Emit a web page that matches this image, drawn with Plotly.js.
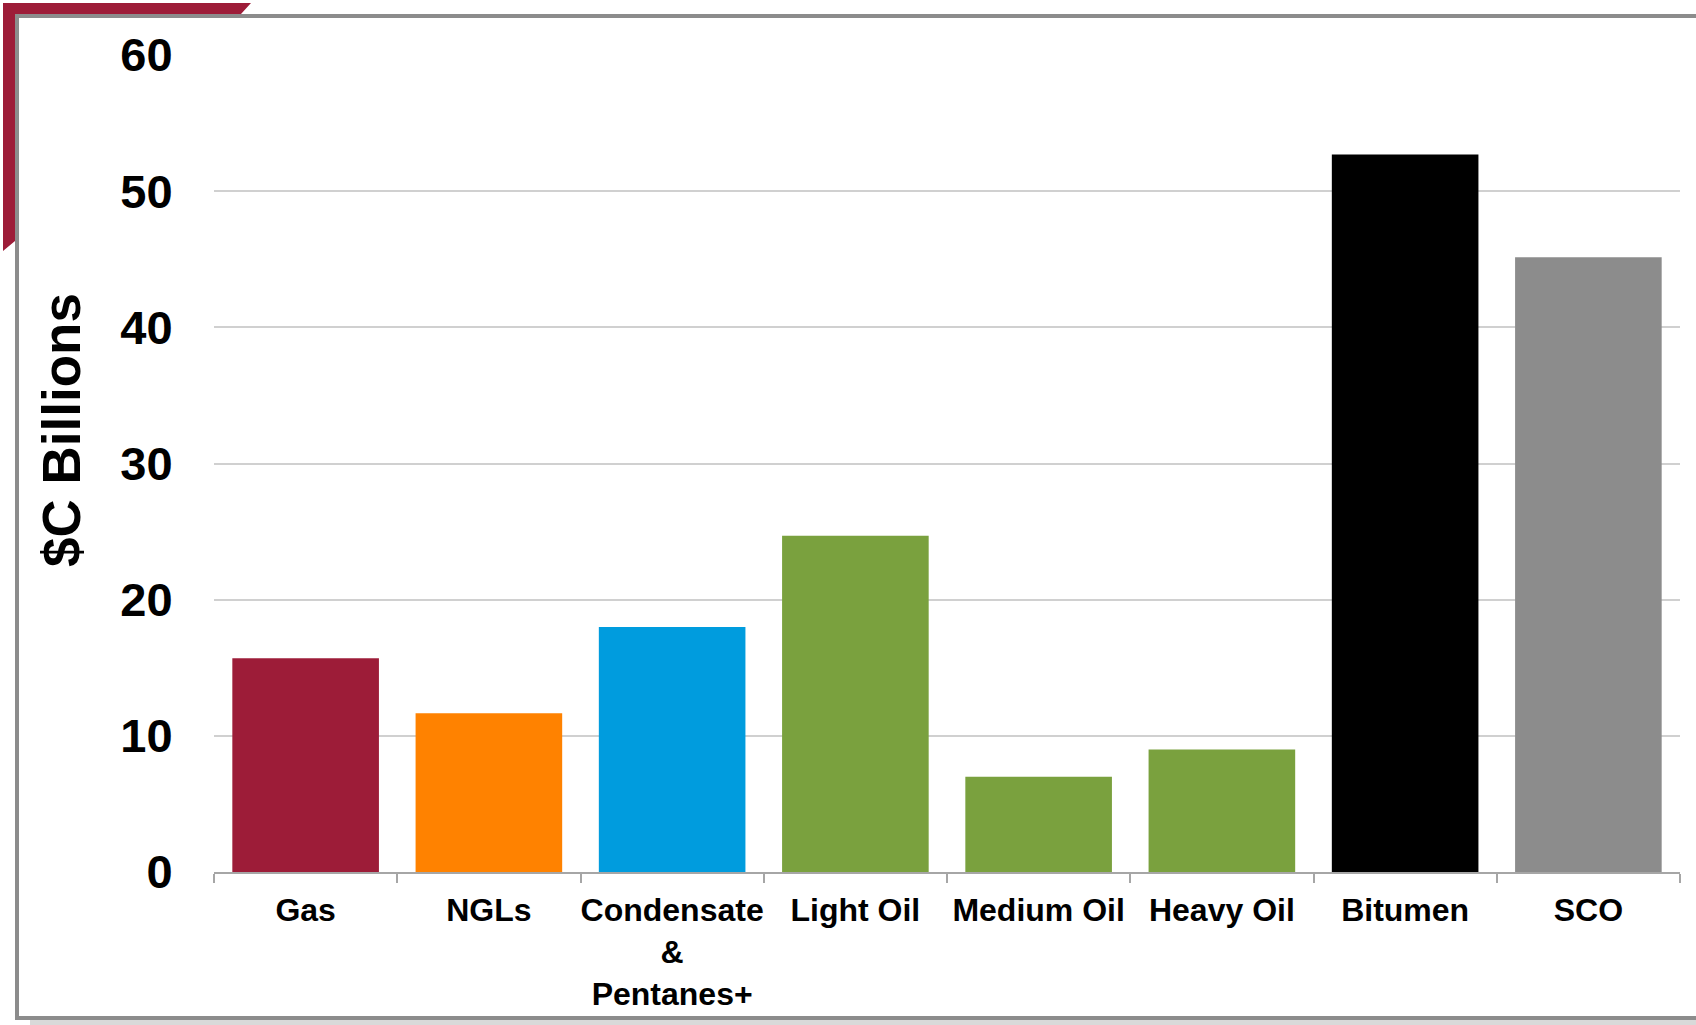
<!DOCTYPE html>
<html>
<head>
<meta charset="utf-8">
<script src="https://cdn.plot.ly/plotly-3.0.1.min.js"></script>
<style>
html,body{margin:0;padding:0;background:#fff;}
#chart{width:1696px;height:1025px;}
</style>
</head>
<body>
<div id="chart"></div>
<script>
// ---- data ----
const categories = ["Gas", "NGLs", "Condensate<br>&<br>Pentanes+", "Light Oil", "Medium Oil", "Heavy Oil", "Bitumen", "SCO"];
const values = [15.7, 11.65, 18.0, 24.7, 7.0, 9.0, 52.7, 45.15];
const barColors = ["#9D1C38", "#FF8200", "#009CDE", "#7AA13E", "#7AA13E", "#7AA13E", "#000000", "#8C8C8C"];
const yTickVals = [0, 10, 20, 30, 40, 50, 60];
const yTitle = "$C Billions";

// ---- layout geometry (pixels) ----
const W = 1696, H = 1025;
const L = 214, R = 1680, T = 55, B = 872;
const px = x => (x - L) / (R - L);
const py = y => (B - y) / (B - T);

const font = {family: "Liberation Sans, Arial, sans-serif", color: "#000", weight: "bold"};

const trace = {
  type: "bar",
  x: categories,
  y: values,
  marker: {color: barColors, line: {width: 0}},
  hoverinfo: "skip"
};

const redPath = "M " + px(3) + " " + py(3) + " L " + px(251) + " " + py(3) + " L " + px(241) + " " + py(14) +
  " L " + px(15) + " " + py(14) + " L " + px(15) + " " + py(241) + " L " + px(3) + " " + py(251) + " Z";

const layout = {
  width: W, height: H,
  margin: {l: L, r: W - R, t: T, b: H - B, pad: 0},
  paper_bgcolor: "#fff",
  plot_bgcolor: "#fff",
  showlegend: false,
  bargap: 0.2,
  xaxis: {
    type: "category",
    tickson: "boundaries",
    ticks: "outside",
    ticklen: 9,
    tickwidth: 2,
    tickcolor: "#A6A6A6",
    tickangle: 0,
    showline: true,
    linecolor: "#A6A6A6",
    linewidth: 2,
    showgrid: false,
    tickfont: Object.assign({}, font, {size: 32}),
    ticklabelstandoff: 9,
    fixedrange: true
  },
  yaxis: {
    range: [0, 60],
    tickvals: yTickVals,
    ticks: "outside",
    ticklen: 31,
    tickcolor: "rgba(0,0,0,0)",
    showline: false,
    zeroline: false,
    showgrid: true,
    gridcolor: "#D0D0D0",
    gridwidth: 2,
    tickfont: Object.assign({}, font, {size: 47}),
    fixedrange: true
  },
  annotations: [{
    text: yTitle,
    xref: "paper", yref: "paper",
    x: px(61), y: py(430),
    xanchor: "center", yanchor: "middle",
    textangle: -90,
    showarrow: false,
    font: Object.assign({}, font, {size: 53})
  }],
  shapes: [
    {type: "rect", xref: "paper", yref: "paper", layer: "below",
     x0: px(30), x1: px(1700), y0: py(1020), y1: py(1026),
     fillcolor: "#D9D9D9", line: {width: 0}},
    {type: "rect", xref: "paper", yref: "paper", layer: "below",
     x0: px(17), x1: px(1710), y0: py(16), y1: py(1018),
     fillcolor: "rgba(0,0,0,0)", line: {color: "#8C8C8C", width: 4}},
    {type: "path", xref: "paper", yref: "paper", layer: "below",
     path: redPath, fillcolor: "#9D1C38", line: {width: 0}}
  ]
};

Plotly.newPlot("chart", [trace], layout, {displayModeBar: false, staticPlot: true});
</script>
</body>
</html>
